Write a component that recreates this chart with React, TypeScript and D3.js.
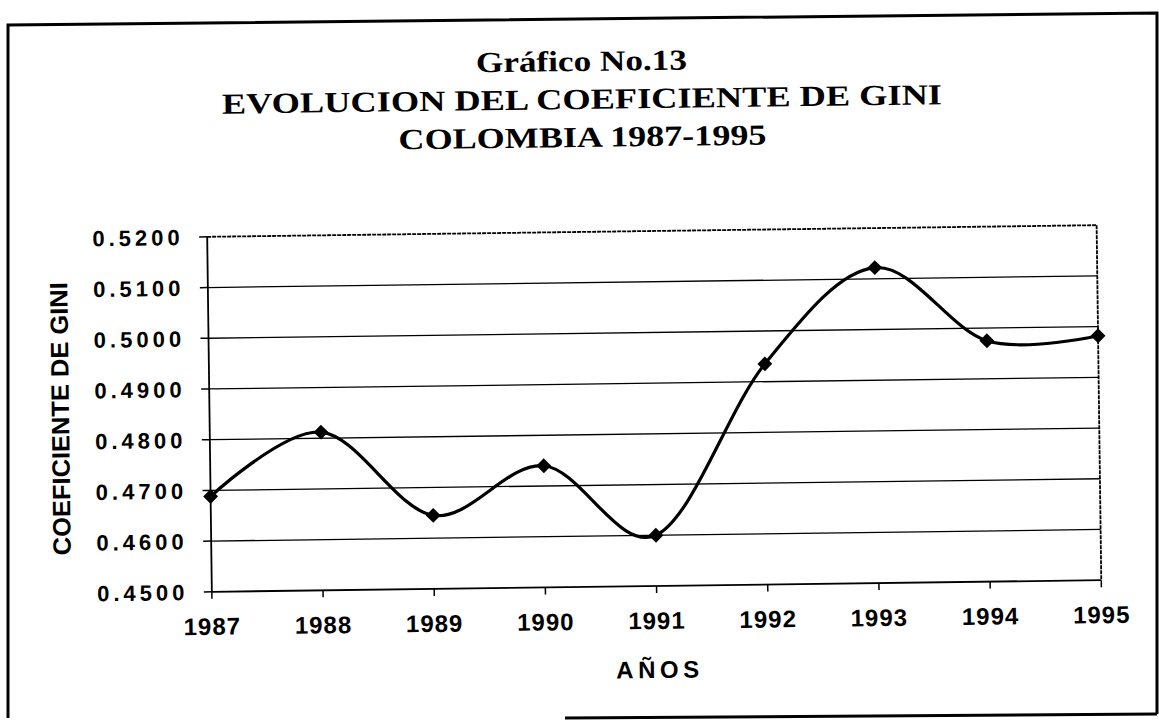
import React from "react";
import * as d3 from "d3";

const years: number[] = [1987, 1988, 1989, 1990, 1991, 1992, 1993, 1994, 1995];
const gini: number[] = [0.4688, 0.4812, 0.4645, 0.474, 0.46, 0.4935, 0.5122, 0.4975, 0.4982];
const yTicks: number[] = [0.45, 0.46, 0.47, 0.48, 0.49, 0.5, 0.51, 0.52];
const titleLines: string[] = ["Gráfico No.13", "EVOLUCION DEL COEFICIENTE DE GINI", "COLOMBIA 1987-1995"];
const titleWidths: number[] = [211, 720, 368];
const yTitle = "COEFICIENTE DE GINI";
const xTitle = "AÑOS";

export default function App() {
  const W = 1159;
  const H = 720;
  const left = 209.5;
  const right = 1099;
  const top = 231;
  const bottom = 586;

  const x = d3.scaleLinear().domain([1987, 1995]).range([left, right]);
  const y = d3.scaleLinear().domain([0.45, 0.52]).range([bottom, top]);
  const fmt = d3.format(".4f");

  const pts = years.map((yr, i) => [x(yr), y(gini[i])] as [number, number]);
  const linePath = d3.line().curve(d3.curveCardinal.tension(0))(pts) || "";
  const diamond = d3.symbol().type(d3.symbolSquare).size(110)() || "";

  const arial = "Arial, 'Liberation Sans', Helvetica, sans-serif";
  const serif = "'Times New Roman', 'Liberation Serif', serif";

  return (
    <svg
      width={W}
      height={H}
      viewBox={`0 0 ${W} ${H}`}
      style={{ position: "absolute", left: 0, top: 0, background: "#fff" }}
    >
      <rect x={0} y={0} width={W} height={H} fill="#fff" />
      {/* outer frame (scanned, slightly skewed) */}
      <path d="M8,718 L8,25 L1157,13 L1157,714" fill="none" stroke="#000" strokeWidth={3} />
      <path d="M565,718 L1157,714" fill="none" stroke="#000" strokeWidth={3} />

      <g transform="rotate(-0.75 654 410)">
        {/* title */}
        {titleLines.map((t, i) => (
          <text
            key={t}
            x={586}
            y={70 + i * 38}
            textAnchor="middle"
            fontFamily={serif}
            fontWeight="bold"
            fontSize={29}
            textLength={titleWidths[i]}
            lengthAdjust="spacingAndGlyphs"
            fill="#000"
          >
            {t}
          </text>
        ))}

        {/* gridlines */}
        {yTicks.slice(1).map((v) => (
          <line
            key={"g" + v}
            x1={left}
            x2={right}
            y1={y(v)}
            y2={y(v)}
            stroke="#000"
            strokeWidth={v === 0.52 ? 1.8 : 1.3}
            strokeDasharray={v === 0.52 ? "4,1" : undefined}
          />
        ))}
        {/* right border of plot */}
        <line x1={right} x2={right} y1={top} y2={bottom} stroke="#000" strokeWidth={1.8} strokeDasharray="4,1" />
        {/* axes */}
        <line x1={left} x2={left} y1={top} y2={bottom} stroke="#000" strokeWidth={1.8} />
        <line x1={left} x2={right} y1={bottom} y2={bottom} stroke="#000" strokeWidth={1.8} />

        {/* y ticks & labels */}
        {yTicks.map((v) => (
          <g key={"y" + v}>
            <line x1={left - 8} x2={left} y1={y(v)} y2={y(v)} stroke="#000" strokeWidth={1.5} />
            <text
              x={186}
              y={y(v) + 8}
              textAnchor="end"
              fontFamily={arial}
              fontWeight="bold"
              fontSize={22}
              letterSpacing={4}
              fill="#000"
            >
              {fmt(v)}
            </text>
          </g>
        ))}

        {/* x ticks & labels */}
        {years.map((yr) => (
          <g key={"x" + yr}>
            <line x1={x(yr)} x2={x(yr)} y1={bottom} y2={bottom + 7} stroke="#000" strokeWidth={1.5} />
            <text
              x={x(yr)}
              y={bottom + 43}
              textAnchor="middle"
              fontFamily={arial}
              fontWeight="bold"
              fontSize={24}
              letterSpacing={1}
              fill="#000"
            >
              {yr}
            </text>
          </g>
        ))}

        {/* axis titles */}
        <text
          x={(left + right) / 2}
          y={bottom + 92}
          textAnchor="middle"
          fontFamily={arial}
          fontWeight="bold"
          fontSize={24}
          textLength={83}
          lengthAdjust="spacing"
          fill="#000"
        >
          {xTitle}
        </text>
        <text
          transform={`translate(69,411) rotate(-90)`}
          textAnchor="middle"
          fontFamily={arial}
          fontWeight="bold"
          fontSize={25}
          textLength={273}
          lengthAdjust="spacingAndGlyphs"
          fill="#000"
        >
          {yTitle}
        </text>

        {/* data line */}
        <path d={linePath} fill="none" stroke="#000" strokeWidth={3.2} strokeLinejoin="round" />
        {pts.map(([px, py], i) => (
          <path key={"m" + i} d={diamond} transform={`translate(${px},${py}) rotate(45)`} fill="#000" />
        ))}
      </g>
    </svg>
  );
}
